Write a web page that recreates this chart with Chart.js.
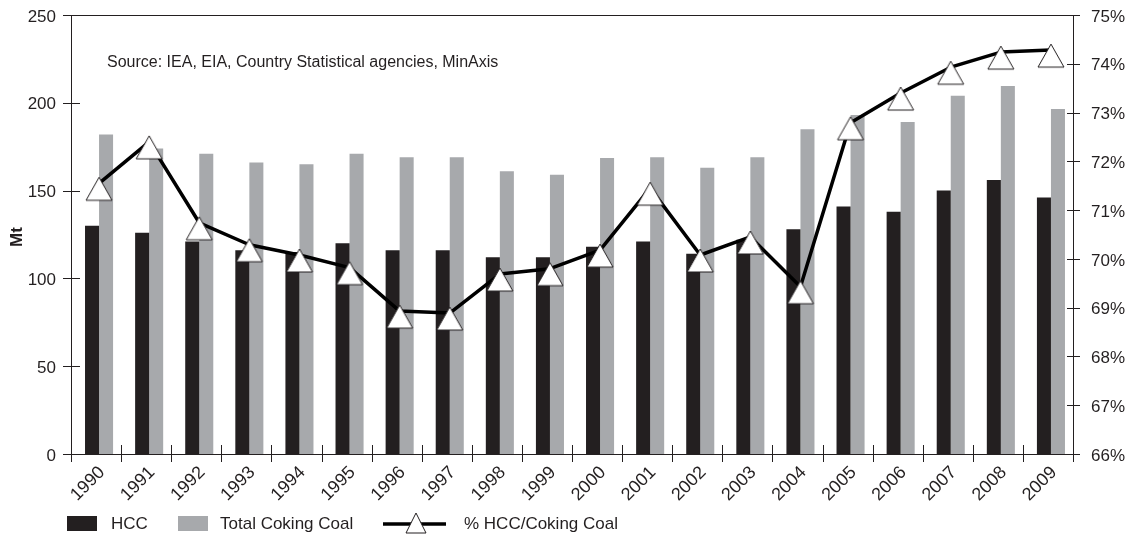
<!DOCTYPE html>
<html>
<head>
<title>HCC vs Total Coking Coal</title>
<script src="https://cdn.jsdelivr.net/npm/chart.js@4/dist/chart.umd.min.js"></script>
<style>
body {
	margin: 0;
	background: #fff;
}
#chart {
	display: block;
}
</style>
</head>
<body>
<canvas id="chart" width="1144" height="535"></canvas>
<script>
var years = ['1990','1991','1992','1993','1994','1995','1996','1997','1998','1999',
	'2000','2001','2002','2003','2004','2005','2006','2007','2008','2009'];
var hcc = [130, 126, 121, 116, 115, 120, 116, 116, 112, 112, 118, 121, 114, 122, 128, 141, 138, 150, 156, 146];
var totalCoking = [182, 174, 171, 166, 165, 171, 169, 169, 161, 159, 168.5, 169, 163, 169, 185, 193, 189, 204, 209.5, 196.5];
var pctHcc = [71.55, 72.4, 70.74, 70.29, 70.08, 69.82, 68.93, 68.89, 69.69, 69.8, 70.18, 71.45, 70.08, 70.45, 69.43, 72.79, 73.4, 73.93, 74.24, 74.28];

var ink = '#231f20';
var grey = '#a7a9ac';
var fontName = '"Liberation Sans", Arial, sans-serif';

// triangle marker, drawn a little below the line vertex like the original
function makeTriangle(w, h, lift) {
	var c = document.createElement('canvas');
	c.width = w + 4;
	c.height = 2 * (h + lift) + 2;
	var ctx = c.getContext('2d');
	var cx = c.width / 2;
	var top = c.height / 2 - lift;
	ctx.beginPath();
	ctx.moveTo(cx, top);
	ctx.lineTo(cx + w / 2, top + h);
	ctx.lineTo(cx - w / 2, top + h);
	ctx.closePath();
	ctx.fillStyle = '#fff';
	ctx.fill();
	ctx.lineWidth = 1;
	ctx.strokeStyle = ink;
	ctx.stroke();
	return c;
}
var triangle = makeTriangle(26, 23, 6);

function fixVertical(scale) {
	scale.width = 71;
	scale.paddingTop = 0;
	scale.paddingBottom = 0;
}

// the original sits its bars a few px right of the category centre
var nudge = {
	id: 'nudge',
	beforeDatasetsDraw: function(chart) {
		chart.ctx.save();
		chart.ctx.translate(3, 0);
	},
	afterDatasetsDraw: function(chart) {
		chart.ctx.restore();
	}
};

var decorations = {
	id: 'decorations',
	afterDraw: function(chart) {
		var ctx = chart.ctx;
		var area = chart.chartArea;
		var x = chart.scales.x, y = chart.scales.y, y1 = chart.scales.y1;
		ctx.save();
		ctx.strokeStyle = ink;
		ctx.lineWidth = 1;
		ctx.beginPath();
		// top border
		ctx.moveTo(area.left, area.top + 0.5);
		ctx.lineTo(area.right, area.top + 0.5);
		// crossing ticks, left axis
		y.ticks.forEach(function(t) {
			var py = Math.round(y.getPixelForValue(t.value)) + 0.5;
			ctx.moveTo(area.left - 8, py);
			ctx.lineTo(area.left + 9, py);
		});
		// right axis
		y1.ticks.forEach(function(t) {
			var py = Math.round(y1.getPixelForValue(t.value)) + 0.5;
			ctx.moveTo(area.right - 6, py);
			ctx.lineTo(area.right + 7, py);
		});
		// category boundaries on x axis
		var step = (area.right - area.left) / years.length;
		for (var i = 0; i <= years.length; i++) {
			var px = Math.round(x.getPixelForValue(0) - step / 2 + i * step) + 0.5;
			ctx.moveTo(px, area.bottom - 9);
			ctx.lineTo(px, area.bottom + 8);
		}
		ctx.stroke();

		ctx.fillStyle = ink;
		ctx.textBaseline = 'middle';
		ctx.font = '16px ' + fontName;
		ctx.fillText('Source: IEA, EIA, Country Statistical agencies, MinAxis', 107, 63);

		// y title
		ctx.save();
		ctx.translate(17, 237);
		ctx.rotate(-Math.PI / 2);
		ctx.textAlign = 'center';
		ctx.font = 'bold 17px ' + fontName;
		ctx.fillText('Mt', 0, 0);
		ctx.restore();

		// legend
		ctx.font = '17px ' + fontName;
		ctx.fillStyle = ink;
		ctx.fillRect(67, 516, 30, 15);
		ctx.fillText('HCC', 111, 524);
		ctx.fillStyle = grey;
		ctx.fillRect(178, 516, 30, 15);
		ctx.fillStyle = ink;
		ctx.fillText('Total Coking Coal', 220, 524);
		ctx.lineWidth = 3.5;
		ctx.strokeStyle = '#000';
		ctx.beginPath();
		ctx.moveTo(383, 524);
		ctx.lineTo(446, 524);
		ctx.stroke();
		ctx.beginPath();
		ctx.moveTo(416, 513);
		ctx.lineTo(426, 533);
		ctx.lineTo(406, 533);
		ctx.closePath();
		ctx.fillStyle = '#fff';
		ctx.fill();
		ctx.lineWidth = 1;
		ctx.strokeStyle = ink;
		ctx.stroke();
		ctx.fillStyle = ink;
		ctx.fillText('% HCC/Coking Coal', 464, 524);
		ctx.restore();
	}
};

new Chart(document.getElementById('chart'), {
	type: 'bar',
	data: {
		labels: years,
		datasets: [
			{
				type: 'line',
				label: '% HCC/Coking Coal',
				data: pctHcc,
				yAxisID: 'y1',
				order: 0,
				borderColor: '#000',
				borderWidth: 3.5,
				borderJoinStyle: 'round',
				tension: 0,
				pointStyle: triangle,
				pointRadius: 10,
				clip: false
			},
			{
				label: 'HCC',
				data: hcc,
				yAxisID: 'y',
				order: 1,
				backgroundColor: ink
			},
			{
				label: 'Total Coking Coal',
				data: totalCoking,
				yAxisID: 'y',
				order: 1,
				backgroundColor: grey
			}
		]
	},
	options: {
		responsive: false,
		animation: false,
		maintainAspectRatio: false,
		devicePixelRatio: 1,
		layout: { autoPadding: false, padding: { top: 15, left: 0, right: 0, bottom: 0 } },
		datasets: {
			bar: { categoryPercentage: 0.56, barPercentage: 1.0 }
		},
		plugins: {
			legend: { display: false },
			tooltip: { enabled: false }
		},
		scales: {
			x: {
				offset: true,
				grid: { display: false },
				border: { display: true, color: ink, width: 1 },
				ticks: {
					color: ink,
					autoSkip: false,
					font: { family: fontName, size: 18 },
					maxRotation: 45,
					minRotation: 45,
					padding: 0,
					labelOffset: 6
				},
				afterFit: function(scale) {
					scale.height = 81;
					scale.paddingLeft = 0;
					scale.paddingRight = 0;
				}
			},
			y: {
				position: 'left',
				min: 0,
				max: 250,
				grid: { display: false, drawTicks: false },
				border: { display: true, color: ink, width: 1 },
				ticks: {
					stepSize: 50,
					color: ink,
					padding: 15,
					labelOffset: 2,
					font: { family: fontName, size: 17 }
				},
				afterFit: fixVertical
			},
			y1: {
				position: 'right',
				min: 66,
				max: 75,
				grid: { display: false, drawTicks: false },
				border: { display: true, color: ink, width: 1 },
				ticks: {
					stepSize: 1,
					color: ink,
					padding: 18,
					labelOffset: 2,
					font: { family: fontName, size: 17 },
					callback: function(v) { return v + '%'; }
				},
				afterFit: fixVertical
			}
		}
	},
	plugins: [nudge, decorations]
});
</script>
</body>
</html>
